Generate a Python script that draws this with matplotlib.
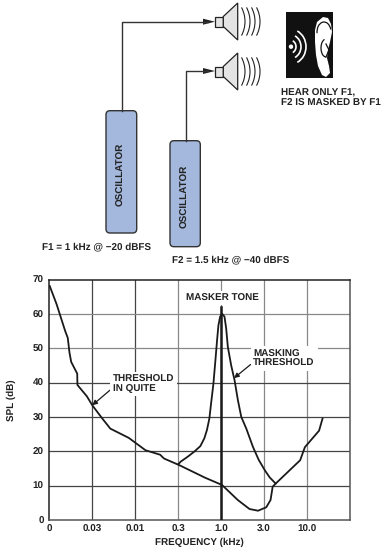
import matplotlib
matplotlib.use('Agg')
import matplotlib.pyplot as plt
from matplotlib.patches import FancyBboxPatch, Polygon, Rectangle, Arc, Circle

plt.rcParams['font.family'] = ['Liberation Sans', 'DejaVu Sans']
plt.rcParams['text.hinting'] = 'no_hinting'

# x axis is evenly spaced by tick index, the labels are not a real scale
freq_labels = ['0', '0.03', '0.01', '0.3', '1.0', '3.0', '10.0']
spl_ticks = [0, 10, 20, 30, 40, 50, 60, 70]

quiet_x = [0.01, 0.17, 0.37, 0.43, 0.47, 0.51, 0.65, 0.655, 0.875, 1.0, 1.23, 1.42, 1.85,
           2.24, 2.58, 2.67, 3.02, 3.53, 3.61, 4.02, 4.39, 4.66, 4.86, 5.05, 5.15, 5.2, 5.27, 5.84,
           5.95, 6.28, 6.36]
quiet_y = [68.1, 62.8, 55, 53, 48.7, 46, 42.6, 39.3, 36, 33.4, 29.6, 26.6, 23.9,
           20.3, 19, 17.9, 16, 12.9, 12.4, 10.2, 5.8, 3.2, 2.7, 3.7, 5.8, 9.7, 10.6, 17.4,
           21.2, 26, 29.5]

mask_x = [3.0, 3.06, 3.22, 3.375, 3.516, 3.61, 3.67, 3.727, 3.766, 3.82, 3.867, 3.906, 3.9375,
          3.977, 4.023, 4.078, 4.117, 4.156, 4.234, 4.3125, 4.39, 4.469, 4.586, 4.74, 4.875,
          5.016, 5.13, 5.27]
mask_y = [16.2, 17, 18.4, 19.9, 21.5, 23.8, 26.2, 29.6, 33.9, 39.6, 46.5, 52.4, 56.7,
          59.2, 60, 59.2, 55.8, 50.4, 45, 40.7, 34.9, 30, 26.6, 21.3, 17.5,
          14.5, 12.4, 10.6]

tone_pos = 4
tone_level = 62

dark_x = [1, 2]
light_x = [3, 4, 5, 6]
dark_y = [10, 20, 30, 40]
light_y = [50, 60]

fig = plt.figure(figsize=(3.89, 5.48), dpi=100)

# top diagram, drawn in pixel coordinates
bg = fig.add_axes([0, 0, 1, 1])
bg.set_xlim(0, 389)
bg.set_ylim(548, 0)
bg.axis('off')

txt = '#222222'
box_col = '#a3b8dc'
fs = 7.1


def oscillator(x0, x1, y0, y1, cy):
    bg.add_patch(FancyBboxPatch((x0 + 3, y0 + 3), x1 - x0 - 6, y1 - y0 - 6,
                                boxstyle='round,pad=3,rounding_size=4',
                                fc=box_col, ec='#333333', lw=1))
    bg.text((x0 + x1) / 2, cy, 'OSCILLATOR', rotation=90, ha='center', va='center',
            fontsize=fs, weight='bold', color=txt)


def speaker(y):
    bg.add_patch(Rectangle((215, y - 5), 8.3, 10, fc='#e4e4e4', ec='#222222', lw=0.9))
    bg.add_patch(Polygon([(223.3, y - 5), (237.7, y - 18.5), (237.7, y + 18.5), (223.3, y + 5)],
                         closed=True, fc='#e4e4e4', ec='#222222', lw=0.9))
    for tip in [245, 250, 255, 260]:
        bg.add_patch(Arc((tip - 30, y), 60, 60, theta1=-28, theta2=28, color='#222222', lw=0.8))


bg.plot([121.7, 121.7, 208], [111, 21.7, 21.7], color='#333333', lw=1)
bg.plot([185.7, 185.7, 208], [141, 71, 71], color='#333333', lw=1)
for y in [21.7, 71]:
    bg.add_patch(Polygon([(203, y - 3), (215, y), (203, y + 3)], closed=True, fc='#222222', ec='none'))

oscillator(106, 136.7, 110.7, 233, 174)
oscillator(170, 200.3, 140.7, 246.7, 196)
speaker(21.5)
speaker(71.5)

bg.text(42, 247, 'F1 = 1 kHz @ \u221220 dBFS', ha='left', va='center', fontsize=fs, weight='bold', color=txt)
bg.text(172, 260, 'F2 = 1.5 kHz @ \u221240 dBFS', ha='left', va='center', fontsize=fs, weight='bold', color=txt)
bg.text(281, 92.5, 'HEAR ONLY F1,', ha='left', va='center', fontsize=fs, weight='bold', color=txt)
bg.text(281, 103, 'F2 IS MASKED BY F1', ha='left', va='center', fontsize=fs, weight='bold', color=txt)

# ear icon
bg.add_patch(Rectangle((286, 12.3), 47.3, 66, fc='#111111', ec='none'))
ear = [(323, 17), (328, 18), (331, 24), (332, 32), (330, 42), (328, 50), (327, 58), (329, 66),
       (330, 73), (326, 77), (322, 75), (318, 66), (316, 55), (315, 42), (315, 30), (317, 22)]
bg.add_patch(Polygon(ear, closed=True, fc='white', ec='none'))
bg.add_patch(Arc((324, 32), 14, 20, theta1=170, theta2=340, color='#111111', lw=0.9))
bg.add_patch(Arc((326, 48), 10, 18, theta1=90, theta2=260, color='#111111', lw=0.9))
bg.plot([326, 329, 326], [44, 50, 57], color='#111111', lw=0.9)
bg.add_patch(Circle((291, 46.7), 2.2, fc='white', ec='none'))
for r in [6, 11, 16]:
    bg.add_patch(Arc((290, 46.7), 2 * r, 2.2 * r, theta1=-65, theta2=65, color='white', lw=1.2))

# bottom chart
ax = fig.add_axes([49.3 / 389, 1 - 520 / 548, (350 - 49.3) / 389, (520 - 279.5) / 548])
ax.set_xlim(0, 7)
ax.set_ylim(0, 70)
ax.set_facecolor('none')

for v in dark_x:
    ax.axvline(v, color='#444444', lw=0.9, zorder=1)
for v in light_x:
    ax.axvline(v, color='#888888', lw=0.9, zorder=1)
for v in dark_y:
    ax.axhline(v, color='#444444', lw=0.9, zorder=1)
for v in light_y:
    ax.axhline(v, color='#888888', lw=0.9, zorder=1)

ax.plot(quiet_x, quiet_y, color='#1a1a1a', lw=1.3, zorder=3)
ax.plot(mask_x, mask_y, color='#1a1a1a', lw=1.3, zorder=3)
ax.plot([tone_pos, tone_pos], [0, tone_level], color='#1a1a1a', lw=1.8, zorder=3)

ax.set_xticks(range(len(freq_labels)))
ax.set_xticklabels(freq_labels, fontsize=fs, weight='bold', color=txt)
ax.set_yticks(spl_ticks)
ax.set_yticklabels(spl_ticks, fontsize=fs, weight='bold', color=txt)
ax.tick_params(axis='x', length=0, pad=3)
ax.tick_params(axis='y', length=0, pad=4)
for s in ax.spines.values():
    s.set_linewidth(1.1)
    s.set_color('#222222')
ax.spines['right'].set_color('#555555')
ax.spines['bottom'].set_color('#555555')
ax.set_xlabel('FREQUENCY (kHz)', fontsize=fs, weight='bold', color=txt, labelpad=3)
ax.set_ylabel('SPL (dB)', fontsize=fs, weight='bold', color=txt, labelpad=12)

white = dict(fc='white', ec='none', pad=2)
ax.text(tone_pos + 0.04, 64.6, 'MASKER TONE', ha='center', va='center', fontsize=fs, weight='bold',
        color=txt, bbox=white, zorder=4)
ax.annotate('THRESHOLD\nIN QUITE', xy=(1.0, 33.4), xytext=(1.48, 39.6), ha='left', va='center',
            fontsize=fs, weight='bold', color=txt, linespacing=1.0, bbox=white, zorder=4,
            arrowprops=dict(arrowstyle='-|>', color='#1a1a1a', lw=0.9, shrinkA=0, shrinkB=0,
                            relpos=(0, 0.3)))
ax.annotate('MASKING\nTHRESHOLD', xy=(4.3, 41.3), xytext=(4.75, 47), ha='left', va='center',
            fontsize=fs, weight='bold', color=txt, linespacing=1.0, bbox=white, zorder=4,
            arrowprops=dict(arrowstyle='-|>', color='#1a1a1a', lw=0.9, shrinkA=0, shrinkB=0,
                            relpos=(0, 0.3)))

fig.savefig('out.png', dpi=100)
